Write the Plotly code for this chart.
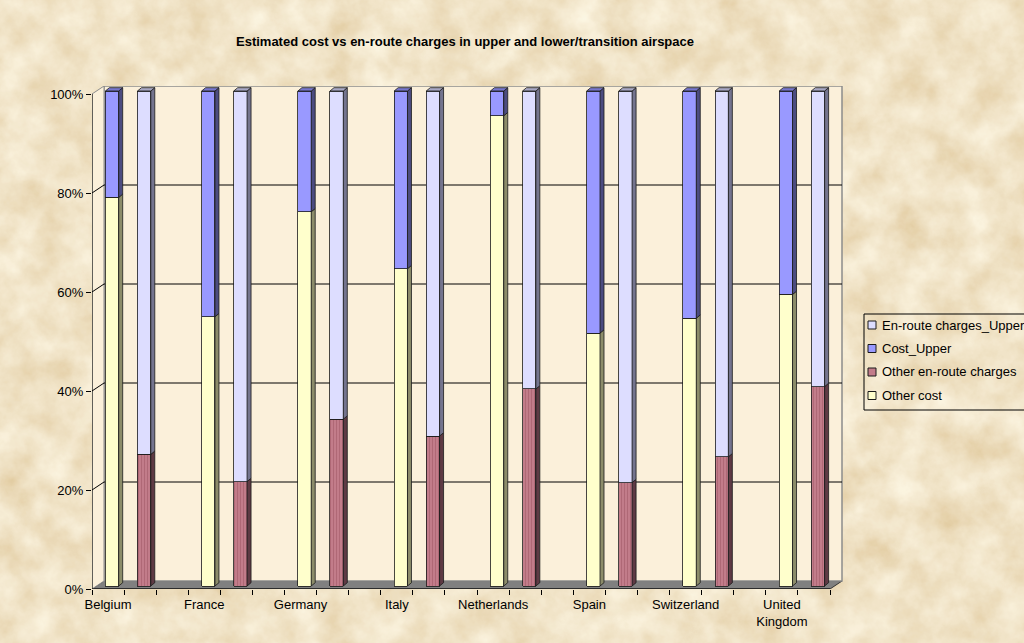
import base64
import plotly.graph_objects as go

# ---- data (percent of total per country) ----
countries = ["Belgium", "France", "Germany", "Italy", "Netherlands",
             "Spain", "Switzerland", "United<br>Kingdom"]
other_cost = [78.5, 54.4, 75.6, 64.1, 95.0, 51.1, 54.1, 58.9]
cost_upper = [21.5, 45.6, 24.4, 35.9, 5.0, 48.9, 45.9, 41.1]
other_enroute = [26.6, 21.1, 33.7, 30.3, 39.8, 20.9, 26.1, 40.3]
enroute_upper = [73.4, 78.9, 66.3, 69.7, 60.2, 79.1, 73.9, 59.7]
pct_ticks = [0, 20, 40, 60, 80, 100]
pct_labels = ["0%", "20%", "40%", "60%", "80%", "100%"]
legend_names = ["En-route charges_Upper", "Cost_Upper",
                "Other en-route charges", "Other cost"]

# ---- geometry of the pseudo-3D frame ----
W, H = 1024, 643
M_L, M_R, M_T, M_B = 92, 181, 86, 54
PLOT_W = W - M_L - M_R
PLOT_H = H - M_T - M_B
N_SLOTS = 3 * len(countries) - 1          # bar, bar, gap per country
FRONT_W = 738                             # width of the front floor edge
PX_SLOT = FRONT_W / N_SLOTS
PX_PCT = 4.95
DEPTH_PX = (12, 8)                        # back wall offset
BAR_SHIFT_PX = (4, 3)                     # bars sit one third deep
BAR_W = 0.415
FACE_PX = (4, 3.3)                        # side / top face depth of a bar

x_lo = -0.5
x_hi = x_lo + PLOT_W / PX_SLOT
y_hi = PLOT_H / PX_PCT
dxd = DEPTH_PX[0] / PX_SLOT
dyd = DEPTH_PX[1] / PX_PCT

left_x = [3 * i for i in range(len(countries))]
right_x = [3 * i + 1 for i in range(len(countries))]

FONT = "Arial, Liberation Sans, sans-serif"
COL = {
    "Other cost": ("#FFFFCC", "#8C8C6A", "#D8D8A8"),
    "Cost_Upper": ("#9999FF", "#4C4C80", "#7777CC"),
    "Other en-route charges": ("#C27C8A", "#5E3A44", "#9A5C68"),
    "En-route charges_Upper": ("#DDDDFF", "#74748E", "#A8A8C4"),
}

# parchment texture for the page background (procedural SVG noise)
PARCHMENT_SVG = f"""<svg xmlns='http://www.w3.org/2000/svg' width='{W}' height='{H}'>
<filter id='p' x='0' y='0' width='100%' height='100%'>
<feTurbulence type='fractalNoise' baseFrequency='0.028' numOctaves='5' seed='7'/>
<feColorMatrix type='matrix' values='0.305 0 0 0 0.7395  0.45 0 0 0 0.571  0.5875 0 0 0 0.318  0 0 0 0 1'/>
</filter>
<rect width='100%' height='100%' fill='#E8D3A6'/>
<rect width='100%' height='100%' filter='url(#p)' opacity='0.85'/>
</svg>"""
PARCHMENT_URI = "data:image/svg+xml;base64," + base64.b64encode(
    PARCHMENT_SVG.encode()).decode()


def px_to_paper(px, py):
    return (px - M_L) / PLOT_W, (H - M_B - py) / PLOT_H


fig = go.Figure()

stacks = [
    ("Other cost", left_x, other_cost),
    ("Cost_Upper", left_x, cost_upper),
    ("Other en-route charges", right_x, other_enroute),
    ("En-route charges_Upper", right_x, enroute_upper),
]
for name, xs, vals in stacks:
    face = COL[name][0]
    pattern = None
    if name == "Other en-route charges":
        pattern = dict(shape="|", size=3, solidity=0.25, fgcolor="#A8616F",
                       bgcolor=face, fillmode="replace")
    fig.add_trace(go.Bar(
        x=xs, y=vals, name=name, width=BAR_W, xaxis="x2", yaxis="y2",
        marker=dict(color=face, line=dict(color="#1a1a1a", width=0.8),
                    pattern=pattern),
        showlegend=False, hoverinfo="skip",
    ))

shapes = []
annotations = []
# floor
shapes.append(dict(
    type="path", xref="x", yref="y", layer="below",
    path=(f"M {x_lo},0 L {x_lo + N_SLOTS},0 L {x_lo + N_SLOTS + dxd},{dyd} "
          f"L {x_lo + dxd},{dyd} Z"),
    fillcolor="#808080", line=dict(color="#333333", width=1)))
# back wall
shapes.append(dict(
    type="rect", xref="x", yref="y", layer="below",
    x0=x_lo + dxd, x1=x_lo + N_SLOTS + dxd, y0=dyd, y1=100 + dyd,
    fillcolor="#FBF0DA", line=dict(color="#8c8c8c", width=1.5)))
# left side wall
shapes.append(dict(
    type="path", xref="x", yref="y", layer="below",
    path=(f"M {x_lo},0 L {x_lo + dxd},{dyd} L {x_lo + dxd},{100 + dyd} "
          f"L {x_lo},100 Z"),
    fillcolor="#FBF0DA", line=dict(color="#8c8c8c", width=1)))
# gridlines on back wall and side wall
for v in pct_ticks[1:-1]:
    shapes.append(dict(type="line", xref="x", yref="y", layer="below",
                       x0=x_lo + dxd, x1=x_lo + N_SLOTS + dxd,
                       y0=v + dyd, y1=v + dyd,
                       line=dict(color="#000000", width=1)))
    shapes.append(dict(type="line", xref="x", yref="y", layer="below",
                       x0=x_lo, x1=x_lo + dxd, y0=v, y1=v + dyd,
                       line=dict(color="#000000", width=1)))
# floor front edge and value axis line
shapes.append(dict(type="line", xref="x", yref="y", layer="above",
                   x0=x_lo, x1=x_lo + N_SLOTS, y0=0, y1=0,
                   line=dict(color="#000000", width=1)))
shapes.append(dict(type="line", xref="x", yref="y", layer="above",
                   x0=x_lo, x1=x_lo, y0=0, y1=100,
                   line=dict(color="#000000", width=1)))

# side and top faces of every bar segment
fdx = FACE_PX[0] / PX_SLOT
fdy = FACE_PX[1] / PX_PCT
for xs, lower, upper in [(left_x, ("Other cost", other_cost), ("Cost_Upper", cost_upper)),
                         (right_x, ("Other en-route charges", other_enroute),
                          ("En-route charges_Upper", enroute_upper))]:
    for i, c in enumerate(xs):
        xl, xr = c - BAR_W / 2, c + BAR_W / 2
        b = 0
        for name, vals in (lower, upper):
            t = b + vals[i]
            shapes.append(dict(
                type="path", xref="x2", yref="y2", layer="above",
                path=(f"M {xr},{b} L {xr + fdx},{b + fdy} L {xr + fdx},{t + fdy} "
                      f"L {xr},{t} Z"),
                fillcolor=COL[name][1], line=dict(color="#1a1a1a", width=0.8)))
            b = t
        top_name = upper[0]
        shapes.append(dict(
            type="path", xref="x2", yref="y2", layer="above",
            path=(f"M {xl},{b} L {xl + fdx},{b + fdy} L {xr + fdx},{b + fdy} "
                  f"L {xr},{b} Z"),
            fillcolor=COL[top_name][2], line=dict(color="#1a1a1a", width=0.8)))

# legend box with square swatches
LEG_X, LEG_Y, LEG_ROW = 864, 314, 23.5
bx0, by0 = px_to_paper(LEG_X, LEG_Y)
bx1, by1 = px_to_paper(W + 10, LEG_Y + LEG_ROW * len(legend_names) + 2)
shapes.append(dict(type="rect", xref="paper", yref="paper", layer="above",
                   x0=bx0, x1=bx1, y0=by1, y1=by0,
                   fillcolor="rgba(0,0,0,0)", line=dict(color="#000000", width=1)))
for k, name in enumerate(legend_names):
    cy = LEG_Y + 11 + k * LEG_ROW
    sx0, sy0 = px_to_paper(LEG_X + 4, cy - 4)
    sx1, sy1 = px_to_paper(LEG_X + 12, cy + 4)
    shapes.append(dict(type="rect", xref="paper", yref="paper", layer="above",
                       x0=sx0, x1=sx1, y0=sy1, y1=sy0,
                       fillcolor=COL[name][0],
                       line=dict(color="#1a1a1a", width=1)))
    tx, ty = px_to_paper(LEG_X + 16, cy)
    annotations.append(dict(text=name, xref="paper", yref="paper", x=tx, y=ty,
                            xanchor="left", yanchor="middle", showarrow=False,
                            font=dict(family=FONT, size=13, color="#000000")))

bg_x, bg_y = px_to_paper(0, 0)
fig.update_layout(
    width=W, height=H,
    margin=dict(l=M_L, r=M_R, t=M_T, b=M_B, autoexpand=False),
    paper_bgcolor="#E8D3A6",
    plot_bgcolor="rgba(0,0,0,0)",
    barmode="stack",
    showlegend=False,
    font=dict(family=FONT, size=13, color="#000000"),
    title=dict(text="<b>Estimated cost vs en-route charges in upper and lower/transition airspace</b>",
               x=465 / W, xanchor="center", y=1 - 41 / H, yanchor="middle",
               font=dict(family=FONT, size=13, color="#000000")),
    images=[dict(source=PARCHMENT_URI, xref="paper", yref="paper",
                 x=bg_x, y=bg_y, sizex=W / PLOT_W, sizey=H / PLOT_H,
                 xanchor="left", yanchor="top", sizing="stretch",
                 layer="below")],
    xaxis=dict(range=[x_lo, x_hi], showgrid=False, zeroline=False,
               showline=False, tickmode="array", tickvals=left_x,
               ticktext=countries, ticks="outside", ticklen=3,
               tickcolor="rgba(0,0,0,0)", tickangle=0,
               minor=dict(tickmode="array",
                          tickvals=[x_lo + k for k in range(N_SLOTS + 1)],
                          ticks="outside", ticklen=5, tickcolor="#000000",
                          showgrid=False),
               fixedrange=True),
    yaxis=dict(range=[0, y_hi], showgrid=False, zeroline=False,
               showline=False, tickmode="array",
               tickvals=pct_ticks, ticktext=pct_labels,
               ticks="outside", ticklen=5, tickcolor="#000000",
               fixedrange=True),
    xaxis2=dict(overlaying="x", visible=False,
                range=[x_lo - BAR_SHIFT_PX[0] / PX_SLOT,
                       x_hi - BAR_SHIFT_PX[0] / PX_SLOT]),
    yaxis2=dict(overlaying="y", visible=False,
                range=[-BAR_SHIFT_PX[1] / PX_PCT, y_hi - BAR_SHIFT_PX[1] / PX_PCT]),
    shapes=shapes,
    annotations=annotations,
)

fig.write_html("out.html")
